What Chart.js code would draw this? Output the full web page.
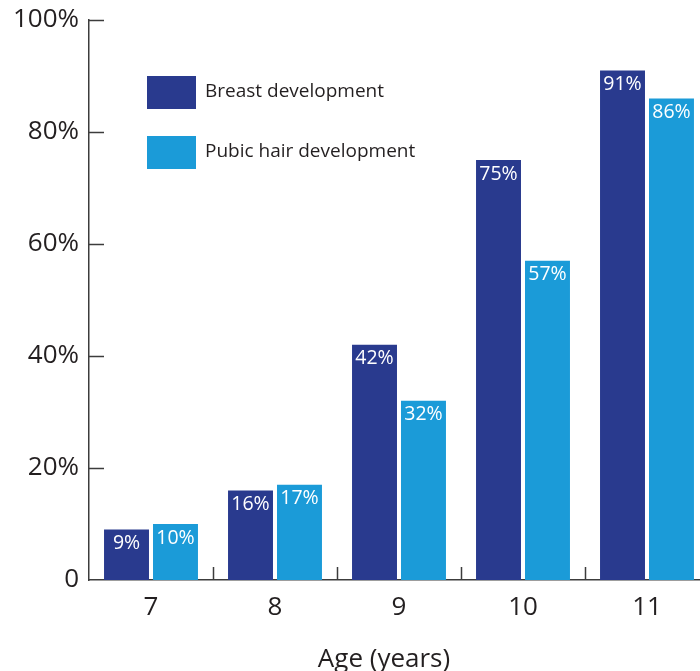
<!DOCTYPE html>
<html lang="en">
<head>
<meta charset="UTF-8">
<title>Puberty onset by age</title>
<script src="https://cdn.jsdelivr.net/npm/chart.js"></script>
<style>
    html, body {
        margin: 0;
        padding: 0;
        background: #fff;
        overflow: hidden;
    }
    .wrap {
        position: relative;
        width: 709px;
        height: 671px;
    }
</style>
</head>
<body>
<div class="wrap">
    <canvas id="chart"></canvas>
</div>
<script>
// ages on the x axis
const ages = ['7', '8', '9', '10', '11'];
// share of girls with each sign, in %
const breastValues = [9, 16, 42, 75, 91];
const pubicValues = [10, 17, 32, 57, 86];
const yTicks = [0, 20, 40, 60, 80, 100];

const darkBlue = '#293a8e';
const lightBlue = '#1b9bd8';
const textColor = '#231f20';
const axisColor = '#3c3c3c';
const fontFamily = '"Open Sans", "Noto Sans", sans-serif';

// small inward tick marks on both axes
const innerTicks = {
    id: 'innerTicks',
    afterDraw(chart) {
        const { ctx, scales: { x, y } } = chart;
        ctx.save();
        ctx.strokeStyle = axisColor;
        ctx.lineWidth = 1.5;
        ctx.beginPath();
        y.ticks.forEach((t, i) => {
            if (t.value === 0) return;
            const py = Math.round(y.getPixelForTick(i)) + 0.5;
            ctx.moveTo(x.left, py);
            ctx.lineTo(x.left + 15, py);
        });
        const n = x.ticks.length;
        for (let i = 0; i < n; i++) {
            const half = (x.getPixelForTick(1) - x.getPixelForTick(0)) / 2;
            const px = Math.round(x.getPixelForTick(i) + half) + 0.5;
            ctx.moveTo(px, y.bottom);
            ctx.lineTo(px, y.bottom - 13);
        }
        ctx.stroke();
        ctx.restore();
    }
};

// percentage printed inside the top of each bar
const barLabels = {
    id: 'barLabels',
    afterDatasetsDraw(chart) {
        const ctx = chart.ctx;
        ctx.save();
        ctx.fillStyle = '#fff';
        ctx.font = '19.5px ' + fontFamily;
        ctx.textAlign = 'center';
        ctx.textBaseline = 'middle';
        chart.data.datasets.forEach((ds, di) => {
            chart.getDatasetMeta(di).data.forEach((bar, i) => {
                ctx.fillText(ds.data[i] + '%', bar.x, bar.y + 14);
            });
        });
        ctx.restore();
    }
};

// legend boxes inside the plot, plus the x axis title
const sideText = {
    id: 'sideText',
    afterDraw(chart) {
        const ctx = chart.ctx;
        ctx.save();
        ctx.textAlign = 'left';
        ctx.textBaseline = 'middle';
        ctx.font = '19px ' + fontFamily;
        chart.data.datasets.forEach((ds, i) => {
            const top = 76 + i * 60;
            ctx.fillStyle = ds.backgroundColor;
            ctx.fillRect(147, top, 49, 33);
            ctx.fillStyle = textColor;
            ctx.fillText(ds.label, 205, top + 16);
        });
        ctx.font = '26px ' + fontFamily;
        ctx.textAlign = 'center';
        ctx.textBaseline = 'alphabetic';
        ctx.fillText('Age (years)', 384, 667);
        ctx.restore();
    }
};

new Chart(document.getElementById('chart'), {
    type: 'bar',
    data: {
        labels: ages,
        datasets: [
            { label: 'Breast development', data: breastValues, backgroundColor: darkBlue },
            { label: 'Pubic hair development', data: pubicValues, backgroundColor: lightBlue }
        ]
    },
    options: {
        responsive: true,
        maintainAspectRatio: false,
        animation: false,
        categoryPercentage: 0.79,
        barPercentage: 0.918,
        layout: { padding: 0 },
        plugins: {
            legend: { display: false },
            tooltip: { enabled: false }
        },
        scales: {
            x: {
                grid: { display: false, drawTicks: false },
                border: { display: true, color: axisColor, width: 1.5 },
                ticks: {
                    color: textColor,
                    font: { family: fontFamily, size: 26 },
                    padding: 12
                },
                afterFit(scale) {
                    scale.height = 91;
                    scale.paddingLeft = 0;
                    scale.paddingRight = 0;
                }
            },
            y: {
                min: 0,
                max: 100,
                afterBuildTicks(scale) {
                    scale.ticks = yTicks.map(v => ({ value: v }));
                },
                grid: { display: false, drawTicks: false },
                border: { display: true, color: axisColor, width: 1.5 },
                ticks: {
                    color: textColor,
                    font: { family: fontFamily, size: 26 },
                    padding: 10,
                    callback: v => v === 0 ? '0' : v + '%'
                },
                afterFit(scale) {
                    scale.width = 89;
                    scale.paddingTop = 20;
                    scale.paddingBottom = 0;
                }
            }
        }
    },
    plugins: [innerTicks, barLabels, sideText]
});
</script>
</body>
</html>
